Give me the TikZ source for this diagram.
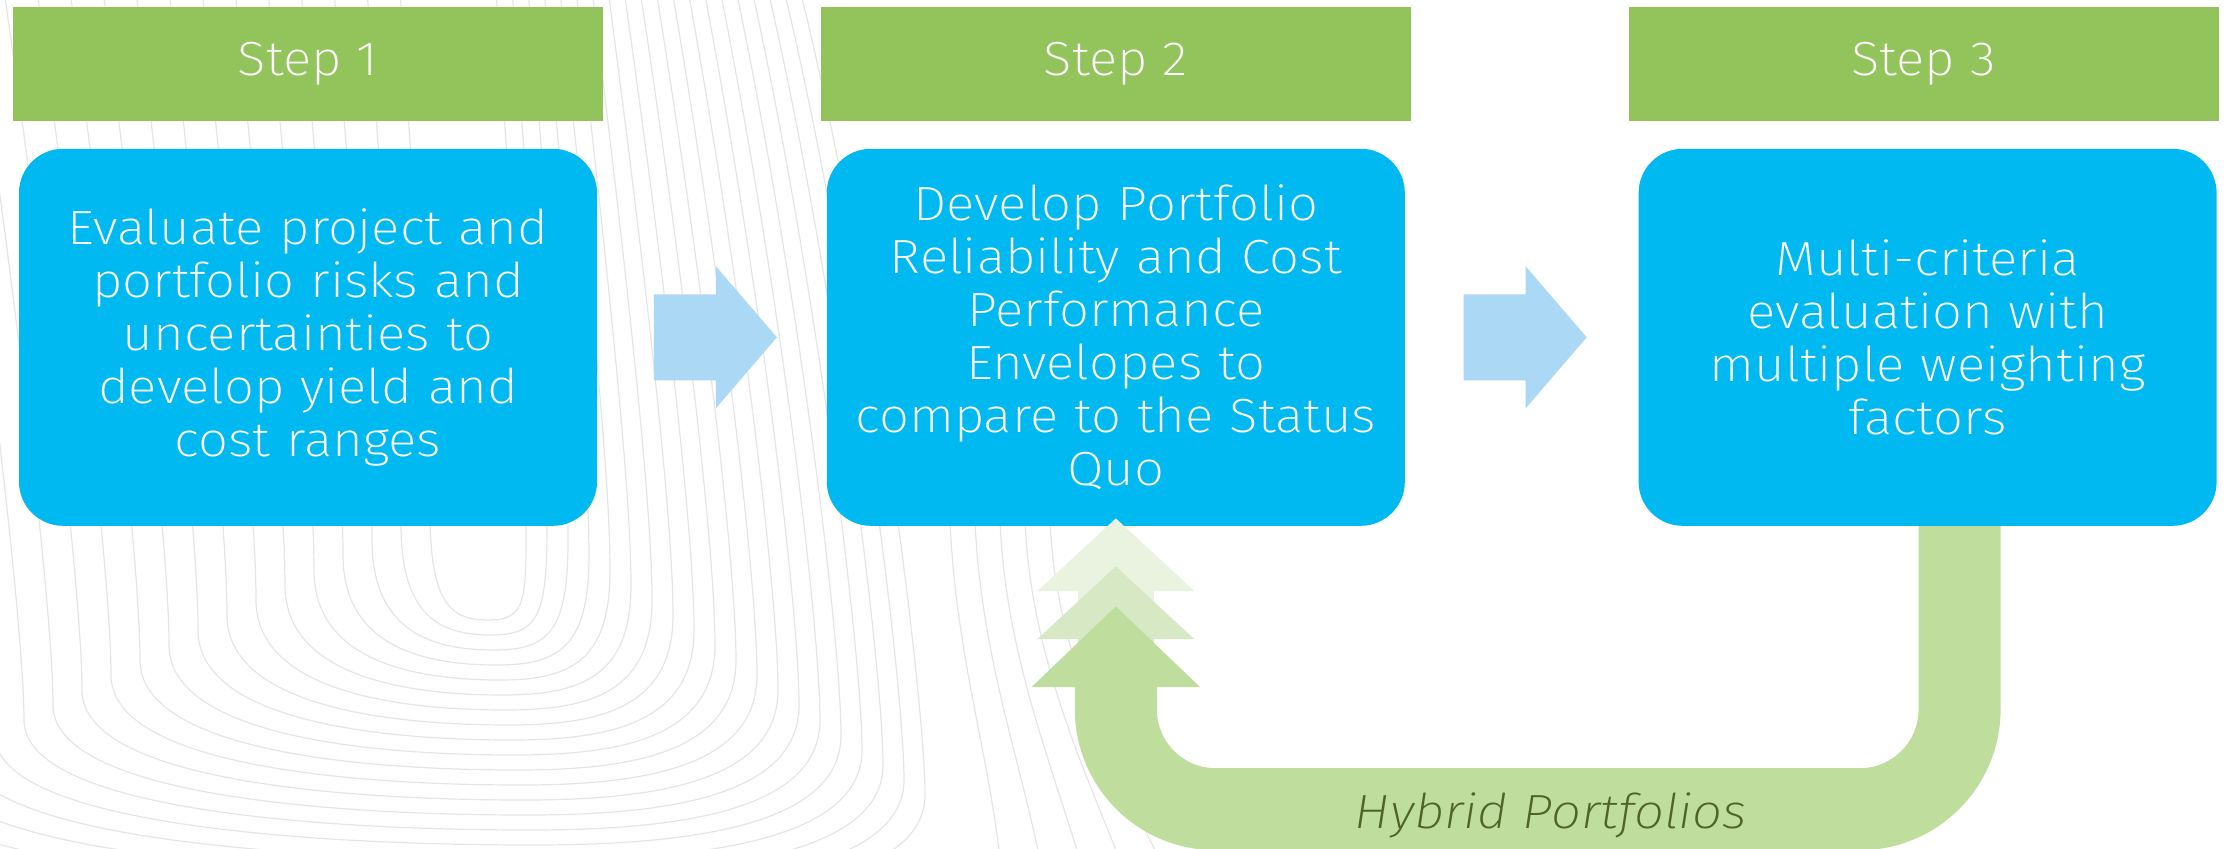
\documentclass[tikz,border=0pt]{standalone}
\usepackage{fontspec}
\setmainfont{Fira Sans ExtraLight}[FakeStretch=1.1, ItalicFont={Fira Sans ExtraLight Italic}]
\usetikzlibrary{arrows.meta, positioning, calc}

\definecolor{stepgreen}{HTML}{92C45B}
\definecolor{taskblue}{HTML}{00B9F0}
\definecolor{arrowblue}{HTML}{ABD8F5}
\definecolor{loopgreen}{HTML}{BFDD9D}
\definecolor{ghostmid}{HTML}{D6E9C4}
\definecolor{ghostlight}{HTML}{E9F3E0}
\definecolor{labelgreen}{HTML}{4F6228}

\begin{document}
\begin{tikzpicture}[
  x=0.5pt, y=-0.5pt,
  stephead/.style = {fill=stepgreen, minimum width=295pt, minimum height=57pt, inner sep=0pt,
                     text=white, font=\fontsize{24}{26.5}\selectfont},
  taskbox/.style = {fill=taskblue, rounded corners=22pt, minimum width=289pt, minimum height=188.5pt,
                    inner sep=0pt, text width=280pt, align=center, text=white,
                    font=\fontsize{24}{26.5}\selectfont},
  contour/.style = {draw=black!10, line width=0.6pt},
  nextarrow/.style = {fill=arrowblue},
  loopback/.style = {draw=loopgreen, line width=41pt, rounded corners=50pt,
                     -{Triangle[length=40.5pt, width=82pt]}},
  ghost/.style = {line width=38pt, -{Triangle[length=36.5pt, width=76.5pt]}}
]

  \useasboundingbox (0,0) rectangle (2226,848);

  % background contours
  \foreach \i in {0,...,19}{
    \pgfmathsetmacro\xl{430-29*\i}
    \pgfmathsetmacro\xr{526+21*\i}
    \pgfmathsetmacro\yb{620+15*\i}
    \pgfmathsetmacro\xc{488+3*\i}
    \draw[contour] ({\xl-30-4*\i},-10) .. controls ({\xl-10-2*\i},300) and (\xl,{\yb-200}) .. (\xl,{\yb-110})
      .. controls (\xl,{\yb-20}) and ({\xc-40-12*\i},\yb) .. (\xc,\yb)
      .. controls ({\xc+40+8*\i},\yb) and (\xr,{\yb-20}) .. (\xr,{\yb-110})
      .. controls (\xr,{\yb-200}) and ({\xr-10-2*\i},300) .. ({\xr-30-5*\i},-10);
  }
  \foreach \j in {0,...,4}{
    \draw[contour] ({950+25*\j},520) .. controls ({955+25*\j},650) and ({990+30*\j},760) .. ({1000+40*\j},860);
  }

  % Step headers
  \node[stephead] (step1) at (308,64) {Step 1};
  \node[stephead, right=108.5pt of step1] (step2) {Step 2};
  \node[stephead, right=108.5pt of step2] (step3) {Step 3};

  % Task boxes
  \node[taskbox, below=13.5pt of step1] (box1) {Evaluate project and\\ portfolio risks and\\ uncertainties to\\
    develop yield and\\ cost ranges};
  \node[taskbox, below=13.5pt of step2] (box2) {Develop Portfolio\\ Reliability and Cost\\ Performance\\
    Envelopes to\\ compare to the Status\\ Quo};
  \node[taskbox, below=13.5pt of step3, xshift=2pt] (box3) {Multi-criteria\\ evaluation with\\ multiple weighting\\ factors};

  % box -> box
  \coordinate (gap12) at ($(box1.east)!0.5!(box2.west)$);
  \coordinate (gap23) at ($(box2.east)!0.5!(box3.west)$);
  \foreach \g in {gap12, gap23}{
    \fill[nextarrow] ($(\g)+(-58,-43)$) -- ($(\g)+(4,-43)$) -- ($(\g)+(4,-71)$) -- ($(\g)+(65,0)$)
      -- ($(\g)+(4,71)$) -- ($(\g)+(4,43)$) -- ($(\g)+(-58,43)$) -- cycle;
  }

  % hybrid portfolios back to step 2
  \draw[ghost, draw=ghostlight] ([yshift=-80.5pt]box2.south) -- ([yshift=4pt]box2.south);
  \draw[ghost, draw=ghostmid] ([yshift=-80.5pt]box2.south) -- ([yshift=-20pt]box2.south);
  \draw[loopback] ([xshift=16pt]box3.south) |- ([yshift=-141.5pt]box2.south) -- ([yshift=-40pt]box2.south);
  \node[anchor=base, text=labelgreen, font=\fontsize{24}{26.5}\selectfont\itshape] (hybrid) at (1551,828)
    {Hybrid Portfolios};

\end{tikzpicture}
\end{document}
